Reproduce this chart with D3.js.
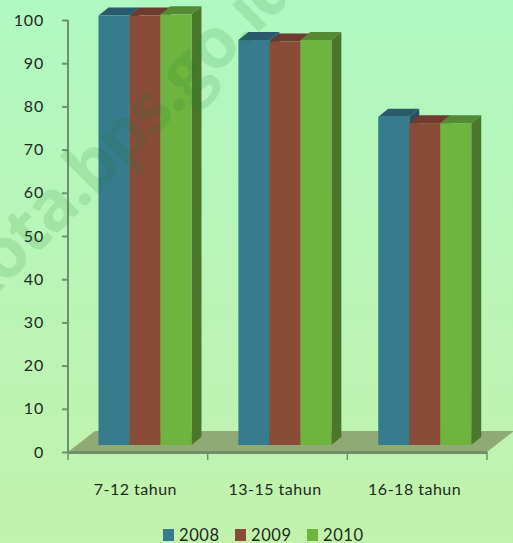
<!DOCTYPE html>
<html>
<head>
<meta charset="utf-8">
<script src="https://cdnjs.cloudflare.com/ajax/libs/d3/7.8.5/d3.min.js"></script>
<style>
html,body{margin:0;padding:0;background:#bcf3b2;overflow:hidden}
svg{display:block}
text{font-family:Lato,sans-serif;fill:#1d2a1d}
</style>
</head>
<body>
<svg id="chart" width="513" height="543"></svg>
<script>
// School participation by age group, three survey years
const categories = ["7-12 tahun", "13-15 tahun", "16-18 tahun"];
const years = ["2008", "2009", "2010"];
const values2008 = [99.4, 93.75, 76];
const values2009 = [99.4, 93.4, 74.5];
const values2010 = [99.7, 93.75, 74.5];
const yTicks = [0, 10, 20, 30, 40, 50, 60, 70, 80, 90, 100];
const faceColors = ["#377b8e", "#884c38", "#6eb540"];
const topColors = ["#2a5a6c", "#6e3b2e", "#538a33"];
const sideColors = ["#28505f", "#5f3427", "#4a772a"];

const W = 513, H = 543;
const svg = d3.select("#chart");
const defs = svg.append("defs");

const bg = defs.append("linearGradient").attr("id", "bg")
  .attr("x1", 0).attr("y1", 0).attr("x2", 0).attr("y2", 1);
bg.append("stop").attr("offset", 0).attr("stop-color", "#b0f8c2");
bg.append("stop").attr("offset", 1).attr("stop-color", "#c2f2ac");
svg.append("rect").attr("width", W).attr("height", H).attr("fill", "url(#bg)");

const axisX = 68, axisRight = 487;
const y = d3.scaleLinear().domain([0, 100]).range([452, 20]);
const x0 = d3.scaleBand().domain(categories).range([axisX, axisRight]);
const barW = 31;
const groupShift = 30.5;          // gap between the axis tick and the first bar
const x1 = d3.scaleBand().domain(years).range([0, barW * 3]);
const lift = 7;                   // bars stand further back on the floor than the axis line
const dx = 10, dy = 8;            // extrusion of each bar
const floorDx = 27, floorDy = 21; // extrusion of the floor

// Floor plate
svg.append("polygon").attr("fill", "#90aa75")
  .attr("points", [[axisX, y(0)], [axisRight, y(0)], [axisRight + floorDx, y(0) - floorDy], [axisX + floorDx, y(0) - floorDy]].join(" "));
svg.append("rect").attr("x", axisX).attr("y", y(0) - 1).attr("width", axisRight - axisX).attr("height", 3).attr("fill", "#6f8f68");

// Bars, drawn left to right so each front face covers its neighbour's side
const series = [values2008, values2009, values2010];
categories.forEach((c, ci) => {
  const gx = x0(c) + groupShift + ci * 0.2;
  years.forEach((yr, si) => {
    const v = series[si][ci];
    const l = gx + x1(yr), r = l + x1.bandwidth();
    const t = y(v) - lift, b = y(0) - lift;
    const g = svg.append("g").attr("class", "bar");
    g.append("polygon").attr("fill", sideColors[si])
      .attr("points", [[r, t], [r + dx, t - dy], [r + dx, b - dy], [r, b]].join(" "));
    g.append("polygon").attr("fill", topColors[si])
      .attr("points", [[l, t], [l + dx, t - dy], [r + dx, t - dy], [r, t]].join(" "));
    g.append("rect").attr("x", l).attr("y", t).attr("width", r - l).attr("height", b - t).attr("fill", faceColors[si]);
  });
});

// Value axis
const yAxis = svg.append("g").attr("transform", `translate(${axisX},0)`)
  .call(d3.axisLeft(y).tickValues(yTicks).tickSize(6).tickPadding(18));
yAxis.selectAll("path,line").attr("stroke", "#6f8f6f").attr("stroke-width", 2);
yAxis.select("path").attr("d", `M0,${y(100)}V${y(0)}`);
yAxis.selectAll("text").attr("font-size", 16).style("letter-spacing", "0.8px")
  .style("font-family", "Lato,sans-serif").attr("fill", "#1d2a1d");

// Category axis ticks and labels
const tickXs = x0.domain().map(d => x0(d)).concat(axisRight);
svg.selectAll("line.cat").data(tickXs).join("line").attr("class", "cat")
  .attr("x1", d => d).attr("x2", d => d).attr("y1", y(0)).attr("y2", y(0) + 8)
  .attr("stroke", "#6f8f6f").attr("stroke-width", 1.5);
svg.selectAll("text.cat").data(categories).join("text").attr("class", "cat")
  .attr("x", d => x0(d) + x0.bandwidth() / 2 - 2.5)
  .attr("y", 495).attr("text-anchor", "middle").attr("font-size", 16)
  .style("letter-spacing", "0.5px")
  .text(d => d);

// Legend
const legendX = d3.scalePoint().domain(years).range([163, 307]);
const lg = svg.selectAll("g.lg").data(years).join("g").attr("class", "lg")
  .attr("transform", d => `translate(${legendX(d)},529)`);
lg.append("rect").attr("width", 11).attr("height", 12).attr("fill", (d, i) => faceColors[i]);
lg.append("text").attr("x", 16).attr("y", 11.5).attr("font-size", 16.5).style("letter-spacing", "0.6px").text(d => d);

// Diagonal site stamp over everything
svg.append("text").text("kota.bps.go.id")
  .attr("transform", "translate(-24.5,315.5) rotate(-45)")
  .attr("font-size", 70).attr("font-weight", 700)
  .style("font-family", "'Open Sans',sans-serif")
  .style("letter-spacing", "-2.5px")
  .style("fill", "#1f7a2a").attr("fill-opacity", 0.14);
</script>
</body>
</html>
